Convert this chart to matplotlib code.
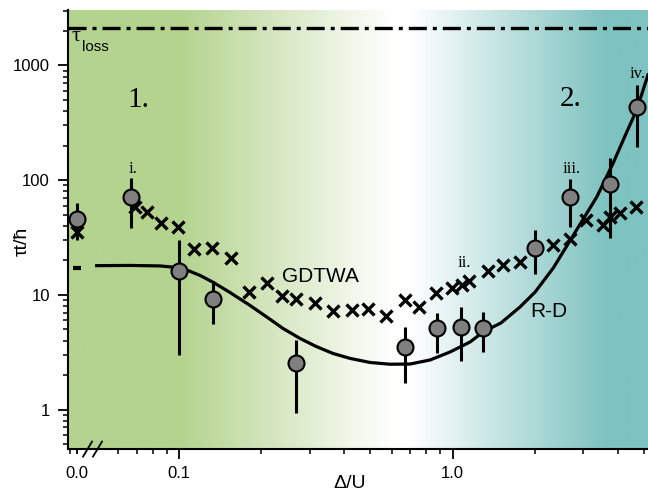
import numpy as np
import matplotlib.pyplot as plt
from matplotlib.colors import LinearSegmentedColormap
from matplotlib.transforms import blended_transform_factory
from matplotlib.ticker import FixedLocator, FixedFormatter, NullFormatter

plt.rcParams['font.family'] = ['Liberation Sans', 'DejaVu Sans']
plt.rcParams['lines.scale_dashes'] = False

# experiment (circles with error bars)
exp_x = [0.0, 0.0666, 0.1, 0.1335, 0.267, 0.669, 0.874, 1.07, 1.295, 1.99, 2.68, 3.76, 4.70]
exp_y = [46.0, 71.1, 16.2, 9.3, 2.54, 3.54, 5.13, 5.29, 5.19, 25.9, 71.9, 92.3, 438]
exp_lo = [30.2, 38.2, 3.0, 5.6, 0.93, 1.70, 3.10, 2.67, 3.20, 15.2, 39.4, 31.2, 194]
exp_hi = [63.0, 104, 30.2, 13.1, 4.05, 5.29, 6.93, 7.81, 7.15, 36.9, 102, 155, 677]

# GDTWA (crosses)
gd_x = [0.0, 0.069, 0.0766, 0.086, 0.0994, 0.1134, 0.1317, 0.1545, 0.1806, 0.209,
        0.237, 0.268, 0.315, 0.364, 0.428, 0.492, 0.571, 0.669, 0.753, 0.866,
        0.991, 1.079, 1.15, 1.346, 1.53, 1.754, 2.326, 2.676, 3.07, 3.54,
        3.76, 4.09, 4.69]
gd_y = [35.6, 58.2, 53.2, 42.2, 38.9, 25.2, 25.7, 20.9, 10.7, 12.65,
        9.8, 9.2, 8.5, 7.3, 7.35, 7.5, 6.55, 9.04, 7.9, 10.4,
        11.4, 12.2, 13.2, 16.1, 18.3, 19.2, 27.3, 30.9, 45.1, 40.8,
        47.4, 51.6, 58.9]

# R-D (solid curve) and its value at Delta/U = 0
rd_x = [0.0500, 0.0662, 0.0852, 0.0967, 0.1067, 0.1193, 0.1335, 0.1536, 0.1817, 0.2091,
        0.2399, 0.2767, 0.3166, 0.3653, 0.4215, 0.4986, 0.590, 0.698, 0.826, 0.977,
        1.157, 1.297, 1.5, 1.762, 2.0, 2.331, 2.61, 3.36, 3.86, 4.26,
        4.70, 5.17]
rd_y = [18.0, 18.08, 17.9, 17.4, 16.5, 14.8, 12.85, 10.5, 8.10, 6.43,
        5.10, 4.18, 3.56, 3.09, 2.80, 2.58, 2.49, 2.50, 2.71, 3.18,
        3.89, 4.79, 5.70, 7.86, 10.6, 17.2, 26.7, 71.5, 141.5, 243,
        410, 828]
rd_zero = 17.3

tau_loss = 2115

X0 = 0.0425  # where Delta/U = 0 sits on the broken log axis


def xpos(v):
    return [X0 if t == 0 else t for t in v]


fig = plt.figure(figsize=(6.48, 4.94), dpi=100)
ax = fig.add_axes([0.105, 0.091, 0.895, 0.889])

# background: green -> white -> teal
green = '#b4d38e'
teal = '#7ec3c0'
cmap = LinearSegmentedColormap.from_list(
    'bg', [(0, green), (0.19, green), (0.56, 'white'), (0.59, 'white'),
           (0.93, teal), (1, teal)])
ax.imshow(np.linspace(0, 1, 600).reshape(1, -1), cmap=cmap, aspect='auto',
          extent=[0, 1, 0, 1], transform=ax.transAxes, zorder=0)

ax.set_xscale('log')
ax.set_yscale('log')

ax.axhline(tau_loss, color='k', lw=2.4, dashes=[13, 4.3, 2.9, 4.3], zorder=2)

ax.plot(xpos(gd_x), gd_y, 'x', ms=9, mew=2.4, color='k', zorder=3)
ax.plot(rd_x, rd_y, '-', color='k', lw=2.3, zorder=4)
ax.plot([X0], [rd_zero], marker='_', ms=6, mew=3, color='k', zorder=4)

ey = np.array(exp_y)
ax.errorbar(xpos(exp_x), exp_y, yerr=[ey - np.array(exp_lo), np.array(exp_hi) - ey],
            fmt='o', ms=11.5, mfc='#808080', mec='k', mew=1.5,
            ecolor='k', elinewidth=2.2, capsize=0, zorder=5)

ax.set_xlim(0.0393, 5.17)
ax.set_ylim(0.454, 3050)

# ticks
ax.xaxis.set_major_locator(FixedLocator([X0, 0.1, 1.0]))
ax.xaxis.set_major_formatter(FixedFormatter(['0.0', '0.1', '1.0']))
ax.xaxis.set_minor_locator(FixedLocator([0.04, 0.06, 0.07, 0.08, 0.09,
                                         0.2, 0.3, 0.4, 0.5, 0.6, 0.7, 0.8, 0.9,
                                         2, 3, 4, 5]))
ax.xaxis.set_minor_formatter(NullFormatter())
ax.yaxis.set_major_locator(FixedLocator([1, 10, 100, 1000]))
ax.yaxis.set_major_formatter(FixedFormatter(['1', '10', '100', '1000']))
ax.yaxis.set_minor_formatter(NullFormatter())

ax.tick_params(which='major', direction='out', length=7, width=1.3, labelsize=12)
ax.tick_params(which='minor', direction='out', length=3.5, width=1.1)
ax.tick_params(axis='y', pad=6)
ax.tick_params(axis='x', pad=5)
ax.xaxis.get_major_ticks()[0].tick1line.set_markersize(3.5)

for s in ['top', 'right']:
    ax.spines[s].set_visible(False)
for s in ['left', 'bottom']:
    ax.spines[s].set_linewidth(1.5)

# axis break marks
trans = blended_transform_factory(ax.transData, ax.transAxes)
for a, b in [(0.0446, 0.0481), (0.0485, 0.0523)]:
    ax.plot([a, b], [-0.017, 0.017], transform=trans, color='k', lw=1.3,
            clip_on=False, zorder=6)

# labels
ax.set_xlabel('Δ/U', fontsize=14)
ax.xaxis.set_label_coords(0.486, -0.058)
ax.set_ylabel('τt/ħ', fontsize=14)
ax.yaxis.set_label_coords(-0.064, 0.474)

serif = ['Liberation Serif', 'DejaVu Serif']
ax.text(0.006, 0.928, 'τ', transform=ax.transAxes, fontsize=16, family=serif,
        va='baseline', ha='left')
ax.text(0.024, 0.9073, 'loss', transform=ax.transAxes, fontsize=11,
        va='baseline', ha='left')
ax.text(0.1207, 0.779, '1.', transform=ax.transAxes, fontsize=21, family=serif,
        ha='center', va='baseline')
ax.text(0.867, 0.781, '2.', transform=ax.transAxes, fontsize=21, family=serif,
        ha='center', va='baseline')
for lab, xx, yy in [('i.', 0.112, 0.629), ('ii.', 0.683, 0.4153),
                    ('iii.', 0.869, 0.629), ('iv.', 0.983, 0.8444)]:
    ax.text(xx, yy, lab, transform=ax.transAxes, fontsize=12, family=serif,
            ha='center', va='baseline')
ax.text(0.3684, 0.381, 'GDTWA', transform=ax.transAxes, fontsize=15, va='baseline')
ax.text(0.7966, 0.301, 'R-D', transform=ax.transAxes, fontsize=15, va='baseline')

fig.savefig('out.png', dpi=100)
